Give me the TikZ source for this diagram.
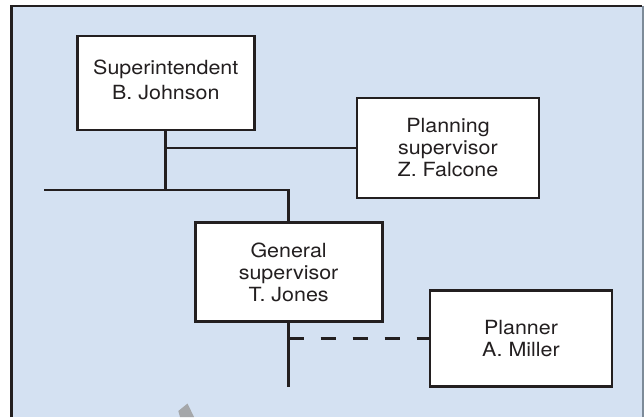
\documentclass[tikz,border=0pt]{standalone}
\usepackage{fontspec}
\setmainfont[FakeStretch=1.1]{TeX Gyre Heros}
\definecolor{ink}{HTML}{231F20}
\definecolor{panel}{HTML}{D4E1F2}
\definecolor{rim}{HTML}{7D8B99}
\definecolor{wedge}{HTML}{A5A7AA}
\begin{document}
\begin{tikzpicture}[x=1pt,y=-1pt,
  orgbox/.style={draw=ink, fill=white, line width=2.8pt, align=center,
    inner sep=0pt, font=\fontsize{19.5}{22}\selectfont, text=ink},
  link/.style={draw=ink, line width=2.8pt},
  dotted link/.style={link, dash pattern=on 15pt off 17pt}]
  \useasboundingbox (0,0) rectangle (644,417);
  % panel
  \fill[white] (0,0) rectangle (644,417);
  \fill[panel] (11.3,6) rectangle (643,417);
  \draw[rim, line width=1.3pt] (643,6) -- (643,417);
  \draw[ink, line width=2.6pt] (11.3,417) -- (11.3,6) -- (642.3,6);
  % small grey mark at the bottom edge
  \fill[wedge] (178.3,411) -- (187.5,403.5) -- (194,417) -- (180,417) -- cycle;

  % boxes
  \node[orgbox, minimum width=177pt, minimum height=94pt, text depth=6.6pt,
        font=\fontsize{19.5}{25}\selectfont] (sup) at (165.8,83)
    {Superintendent\\B. Johnson};
  \node[orgbox, minimum width=182pt, minimum height=100pt] (plan) at (448,148)
    {Planning\\supervisor\\Z. Falcone};
  \node[orgbox, minimum width=187pt, minimum height=99pt] (gen) at (288.6,272)
    {General\\supervisor\\T. Jones};
  \node[orgbox, minimum width=182pt, minimum height=96pt] (planner) at (521,338.8)
    {Planner\\A. Miller};

  % connectors
  \coordinate (busL) at (44,190);
  \coordinate (tail) at (288.6,387);
  \draw[link] (sup.south) -- (sup.south |- busL);
  \draw[link] (sup.south |- plan.west) -- (plan.west);
  \draw[link, line join=miter] (busL) -- (gen.north |- busL) -- (gen.north);
  \draw[link] (gen.south) -- (tail);
  \draw[dotted link] (gen.south |- planner.west) -- (planner.west);
\end{tikzpicture}
\end{document}
